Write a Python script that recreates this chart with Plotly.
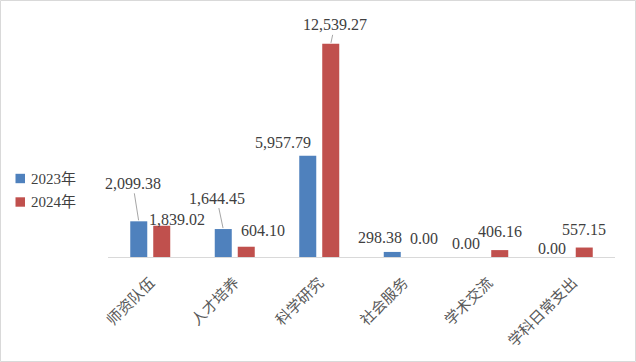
import plotly.graph_objects as go

categories = ["师资队伍", "人才培养", "科学研究", "社会服务", "学术交流", "学科日常支出"]
series_names = ["2023年", "2024年"]
values_2023 = [2099.38, 1644.45, 5957.79, 298.38, 0.00, 0.00]
values_2024 = [1839.02, 604.10, 12539.27, 0.00, 406.16, 557.15]

colors = ["#4F81BD", "#C0504D"]

# label offsets (pixels) of the text centre from the bar top, and whether a leader line is drawn
label_offsets_2023 = [(-6, -38, True), (-6.5, -31, True), (-25, -13, False), (-12, -14, False), (-11, -14, False), (-9, -9, False)]
label_offsets_2024 = [(15, -6, False), (17, -16, False), (4, -19, True), (9, -19, False), (0, -19, False), (0, -18, False)]

L, R, T, B = 108, 21, 19, 105
W, H = 636, 362
pw, ph = W - L - R, H - T - B

def px_x(x):  # pixel -> paper x
    return (x - L) / pw

def px_y(y):  # pixel -> paper y
    return (H - B - y) / ph

fig = go.Figure()
for name, vals, col in zip(series_names, [values_2023, values_2024], colors):
    fig.add_trace(go.Bar(x=list(range(len(categories))), y=vals, name=name,
                         marker=dict(color=col, line=dict(width=0)), showlegend=False))

num_font = dict(family="Liberation Serif, Times New Roman, serif", size=16, color="#404040")
bar_off = 11.5 / (pw / len(categories))
annotations = []
for si, (vals, offs) in enumerate([(values_2023, label_offsets_2023), (values_2024, label_offsets_2024)]):
    sign = -1 if si == 0 else 1
    for i, (v, (dx, dy, leader)) in enumerate(zip(vals, offs)):
        txt = f"{v:,.2f}"
        if leader:
            annotations.append(dict(x=i + sign * bar_off, y=v, xref="x", yref="y", text=txt,
                                    showarrow=True, arrowhead=0, arrowwidth=1, arrowcolor="#A6A6A6",
                                    ax=dx, ay=dy, standoff=1, font=num_font))
        else:
            annotations.append(dict(x=i + sign * bar_off, y=v, xref="x", yref="y", text=txt,
                                    showarrow=False, xshift=dx, yshift=-dy, font=num_font))

# manual legend
shapes = [dict(type="rect", xref="paper", yref="paper",
               x0=px_x(0.5), x1=px_x(W - 0.5), y0=px_y(H - 0.5), y1=px_y(0.5),
               line=dict(color="#D9D9D9", width=1), layer="below")]
legend_y = [178.5, 202]
for name, col, ly in zip(series_names, colors, legend_y):
    shapes.append(dict(type="rect", xref="paper", yref="paper",
                       x0=px_x(15.5), x1=px_x(25), y0=px_y(ly + 4.7), y1=px_y(ly - 4.7),
                       fillcolor=col, line=dict(width=0)))
    annotations.append(dict(xref="paper", yref="paper", x=px_x(29), y=px_y(ly), text=name,
                            xanchor="left", yanchor="middle", showarrow=False,
                            font=dict(family="Liberation Serif, Noto Sans CJK SC, serif", size=15, color="#404040")))

fig.update_layout(
    width=W, height=H,
    margin=dict(l=L, r=R, t=T, b=B, autoexpand=False),
    paper_bgcolor="white", plot_bgcolor="white",
    barmode="group", bargap=0.456, bargroupgap=0.26,
    showlegend=False,
    annotations=annotations,
    shapes=shapes,
)
fig.update_xaxes(tickmode="array", tickvals=list(range(len(categories))), ticktext=categories,
                 tickangle=-45, showline=True, linecolor="#D9D9D9", linewidth=1,
                 showgrid=False, ticks="outside", ticklen=10, tickcolor="rgba(0,0,0,0)",
                 automargin=False, range=[-0.5, len(categories) - 0.5],
                 tickfont=dict(family="Noto Sans CJK SC, sans-serif", size=15, color="#595959"))
fig.update_yaxes(range=[0, 14000], visible=False, showgrid=False, zeroline=False, automargin=False)

fig.write_html("out.html", config={"displayModeBar": False},
               post_script="document.body.style.margin='0';document.body.style.overflow='hidden';")
